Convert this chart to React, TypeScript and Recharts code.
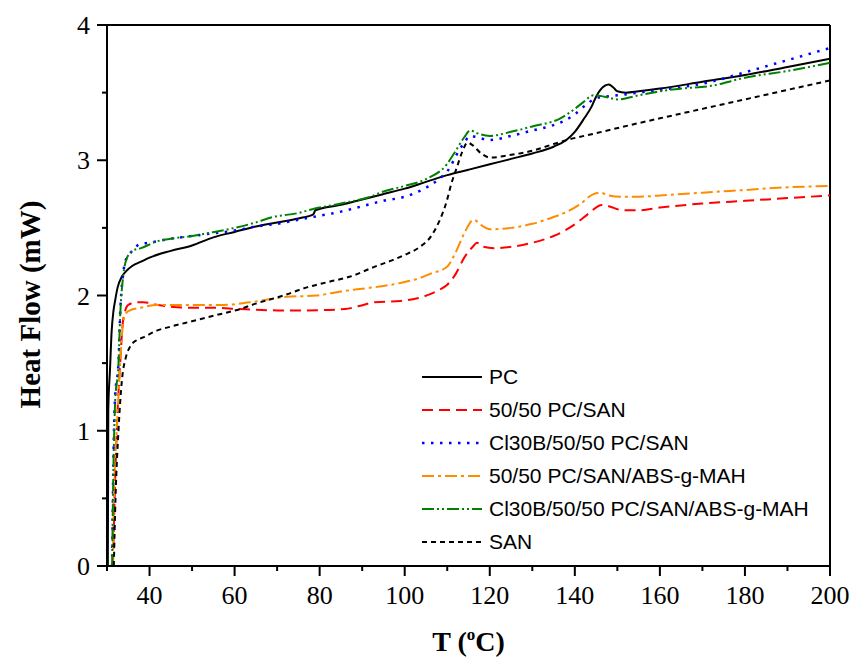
import { Label, Legend, Line, LineChart, ReferenceLine, XAxis, YAxis } from 'recharts'

// DSC traces: [T (°C), heat flow (mW)]
const PC: [number, number][] = [
  [30.2, 0], [30.3, 1.15], [30.7, 1.45], [31.1, 1.74], [31.5, 1.88], [31.9, 1.96], [32.5, 2.06],
  [33.5, 2.14], [34.5, 2.18], [36, 2.22], [38, 2.25], [40, 2.28], [45, 2.33], [50, 2.37], [55, 2.43],
  [60, 2.47], [65, 2.51], [70, 2.54], [75, 2.57], [78.5, 2.6], [79, 2.63], [85, 2.67], [90, 2.71],
  [95, 2.75], [100, 2.79], [105, 2.84], [110, 2.89], [115, 2.93], [120, 2.97], [125, 3.01], [130, 3.05],
  [135, 3.1], [138, 3.15], [140, 3.21], [142, 3.3], [144, 3.4], [145, 3.47], [146, 3.52], [147, 3.55],
  [148, 3.56], [149, 3.54], [150, 3.51], [152, 3.5], [155, 3.51], [160, 3.53], [170, 3.58], [180, 3.63],
  [190, 3.69], [200, 3.75],
]
const PC_SAN: [number, number][] = [
  [31.4, 0], [31.8, 0.5], [32.3, 1.0], [33.1, 1.5], [33.8, 1.82], [35, 1.93], [37, 1.95], [38.5, 1.95],
  [42, 1.93], [49.5, 1.91], [55, 1.91], [61, 1.9], [70, 1.89], [77, 1.89], [86, 1.9], [89, 1.92],
  [93, 1.95], [99, 1.96], [103, 1.98], [106, 2.01], [108, 2.04], [110, 2.08], [112, 2.16], [114, 2.28],
  [116, 2.36], [117, 2.39], [118.5, 2.36], [121, 2.35], [125, 2.36], [130, 2.39], [135, 2.44],
  [138.2, 2.49], [141, 2.55], [143, 2.6], [146.4, 2.67], [148, 2.66], [151.4, 2.63], [155, 2.63],
  [160, 2.65], [170, 2.68], [180, 2.7], [190, 2.72], [200, 2.74],
]
const CL_PC_SAN: [number, number][] = [
  [31.2, 0], [31.5, 0.76], [31.9, 1.25], [32.7, 1.5], [33.1, 1.87], [33.8, 2.16], [34.5, 2.27],
  [35.4, 2.31], [37.8, 2.38], [40, 2.39], [45, 2.42], [50, 2.44], [55, 2.46], [60, 2.48], [65, 2.51],
  [70, 2.53], [75, 2.56], [80, 2.59], [85, 2.62], [90, 2.66], [95, 2.7], [100, 2.73], [104, 2.78],
  [108, 2.86], [110.7, 2.95], [112, 3.03], [114, 3.13], [115.4, 3.18], [117, 3.17], [120, 3.15],
  [125, 3.18], [130, 3.22], [135, 3.26], [137.4, 3.29], [140, 3.34], [143, 3.42], [145, 3.46],
  [147, 3.47], [150, 3.48], [155, 3.5], [160, 3.52], [165, 3.54], [172, 3.58], [180, 3.65],
  [190, 3.74], [200, 3.83],
]
const PC_SAN_ABS: [number, number][] = [
  [31.3, 0], [31.7, 0.6], [32.3, 1.0], [33.1, 1.5], [33.8, 1.8], [34.5, 1.87], [35.4, 1.89], [38, 1.91],
  [41.7, 1.93], [50, 1.93], [57.4, 1.93], [63.6, 1.95], [72.3, 1.99], [79.3, 2.0], [85, 2.03],
  [90, 2.05], [95, 2.07], [100, 2.1], [103.6, 2.13], [106, 2.16], [109.9, 2.21], [112, 2.32],
  [114, 2.46], [116.2, 2.56], [118, 2.52], [120, 2.49], [125, 2.5], [130, 2.53], [135, 2.58],
  [138.2, 2.62], [141, 2.67], [144.4, 2.75], [146, 2.76], [148, 2.74], [150.7, 2.73], [155, 2.73],
  [160, 2.74], [170, 2.76], [180, 2.78], [190, 2.8], [200, 2.81],
]
const CL_PC_SAN_ABS: [number, number][] = [
  [31.2, 0], [31.5, 0.7], [31.9, 1.2], [32.7, 1.5], [33.1, 1.85], [33.8, 2.14], [34.6, 2.27],
  [36, 2.33], [38, 2.35], [41.7, 2.4], [45, 2.42], [50, 2.44], [53.5, 2.46], [60, 2.5], [65, 2.54],
  [69, 2.58], [75, 2.61], [78.5, 2.64], [85, 2.68], [92.7, 2.74], [94.2, 2.76], [100, 2.81],
  [105, 2.86], [109.9, 2.97], [112, 3.07], [114, 3.17], [115.4, 3.22], [117, 3.2], [120, 3.18],
  [125, 3.21], [130, 3.25], [136.6, 3.31], [138.2, 3.34], [140, 3.38], [142, 3.43], [144.4, 3.48],
  [147, 3.47], [150, 3.45], [155, 3.48], [160, 3.51], [165, 3.53], [172, 3.55], [180, 3.61],
  [190, 3.66], [200, 3.72],
]
const SAN: [number, number][] = [
  [31.6, 0], [32, 0.5], [32.7, 1.0], [33.5, 1.37], [34.5, 1.55], [35.4, 1.62], [37, 1.67], [38.5, 1.69],
  [41.7, 1.74], [45, 1.77], [50, 1.81], [55, 1.85], [61.3, 1.9], [65, 1.94], [71.5, 2.0], [77, 2.06],
  [82, 2.1], [87.2, 2.14], [92.7, 2.21], [97, 2.26], [100, 2.3], [103.6, 2.36], [106, 2.43],
  [108, 2.54], [109.9, 2.7], [111, 2.83], [112.3, 2.95], [113.5, 3.06], [114.8, 3.13], [116, 3.11],
  [118, 3.05], [120.1, 3.02], [125, 3.04], [130, 3.07], [135, 3.12], [138.2, 3.15], [145, 3.2],
  [153, 3.26], [160, 3.31], [170, 3.38], [180, 3.45], [190, 3.52], [200, 3.59],
]

const X_TICKS = [30, 40, 50, 60, 70, 80, 90, 100, 110, 120, 130, 140, 150, 160, 170, 180, 190, 200]
const Y_TICKS = [0, 0.5, 1, 1.5, 2, 2.5, 3, 3.5, 4]

const SERIES = [
  { name: 'PC', data: PC, color: '#000000', dash: undefined, width: 2 },
  { name: '50/50 PC/SAN', data: PC_SAN, color: '#ff0000', dash: '11 6', width: 2 },
  { name: 'Cl30B/50/50 PC/SAN', data: CL_PC_SAN, color: '#0000ff', dash: '2.5 6.5', width: 2.5 },
  { name: '50/50 PC/SAN/ABS-g-MAH', data: PC_SAN_ABS, color: '#ff8c00', dash: '12 4 3 4', width: 2 },
  { name: 'Cl30B/50/50 PC/SAN/ABS-g-MAH', data: CL_PC_SAN_ABS, color: '#008000', dash: '12 3 2 3 2 3', width: 2 },
  { name: 'SAN', data: SAN, color: '#000000', dash: '5 4', width: 2 },
]

const SERIF = '"Liberation Serif", "Times New Roman", serif'
const SANS = '"Liberation Sans", Arial, sans-serif'

const toRows = (pts: [number, number][]) => pts.map(([t, hf]) => ({ t, hf }))

function XTick({ x, y, payload }: any) {
  const v = payload.value as number
  const major = v % 20 === 0
  return (
    <g>
      <line x1={x} x2={x} y1={y} y2={y + (major ? 10 : 5)} stroke="#000" strokeWidth={2} />
      {major && (
        <text x={x} y={y + 38} textAnchor="middle" style={{ fontFamily: SERIF, fontSize: 26 }} fill="#000">
          {v}
        </text>
      )}
    </g>
  )
}

function YTick({ x, y, payload }: any) {
  const v = payload.value as number
  const major = Number.isInteger(v)
  return (
    <g>
      <line x1={x - (major ? 10 : 5)} x2={x} y1={y} y2={y} stroke="#000" strokeWidth={2} />
      {major && (
        <text x={x - 17} y={y + 9} textAnchor="end" style={{ fontFamily: SERIF, fontSize: 26 }} fill="#000">
          {v}
        </text>
      )}
    </g>
  )
}

function LegendBox() {
  return (
    <div style={{ fontFamily: SANS, fontSize: 21, color: '#000' }}>
      {SERIES.map((s) => (
        <div key={s.name} style={{ display: 'flex', alignItems: 'center', height: 33 }}>
          <svg width={62} height={10} style={{ marginRight: 6 }}>
            <line x1={1} x2={61} y1={5} y2={5} stroke={s.color} strokeWidth={s.width} strokeDasharray={s.dash} />
          </svg>
          <span style={{ whiteSpace: 'nowrap' }}>{s.name}</span>
        </div>
      ))}
    </div>
  )
}

export default function App() {
  return (
    <div style={{ position: 'absolute', left: 0, top: 0, width: 852, height: 660, background: '#fff' }}>
      <LineChart width={852} height={660} margin={{ top: 25, right: 22, bottom: 54, left: 37 }}>
        <XAxis
          dataKey="t"
          type="number"
          domain={[30, 200]}
          ticks={X_TICKS}
          allowDataOverflow
          height={40}
          tickSize={0}
          tickMargin={0}
          tickLine={false}
          axisLine={{ stroke: '#000', strokeWidth: 2 }}
          tick={<XTick />}
          interval={0}
        >
          <Label
            content={({ viewBox }: any) => (
              <text
                x={viewBox.x + viewBox.width / 2}
                y={viewBox.y + 85}
                textAnchor="middle"
                style={{ fontFamily: SERIF, fontWeight: 'bold', fontSize: 28 }}
                fill="#000"
              >
                T (<tspan fontSize={17} dy={-11}>o</tspan>
                <tspan dy={11}>C)</tspan>
              </text>
            )}
          />
        </XAxis>
        <YAxis
          dataKey="hf"
          type="number"
          domain={[0, 4]}
          ticks={Y_TICKS}
          allowDataOverflow
          width={70}
          tickSize={0}
          tickMargin={0}
          tickLine={false}
          axisLine={{ stroke: '#000', strokeWidth: 2 }}
          tick={<YTick />}
          interval={0}
        >
          <Label
            content={({ viewBox }: any) => {
              const cy = viewBox.y + viewBox.height / 2 + 9
              return (
                <text
                  transform={`translate(40,${cy}) rotate(-90)`}
                  textAnchor="middle"
                  style={{ fontFamily: SERIF, fontWeight: 'bold', fontSize: 29 }}
                  fill="#000"
                >
                  Heat Flow (mW)
                </text>
              )
            }}
          />
        </YAxis>
        <ReferenceLine y={4} stroke="#000" strokeWidth={2} />
        <ReferenceLine x={200} stroke="#000" strokeWidth={2} />
        {SERIES.map((s) => (
          <Line
            key={s.name}
            data={toRows(s.data)}
            dataKey="hf"
            name={s.name}
            type="monotone"
            stroke={s.color}
            strokeWidth={s.width}
            strokeDasharray={s.dash}
            dot={false}
            activeDot={false}
            isAnimationActive={false}
          />
        ))}
        <Legend
          layout="vertical"
          align="center"
          verticalAlign="middle"
          wrapperStyle={{ left: 421, top: 360, width: 420 }}
          content={() => <LegendBox />}
        />
      </LineChart>
    </div>
  )
}
